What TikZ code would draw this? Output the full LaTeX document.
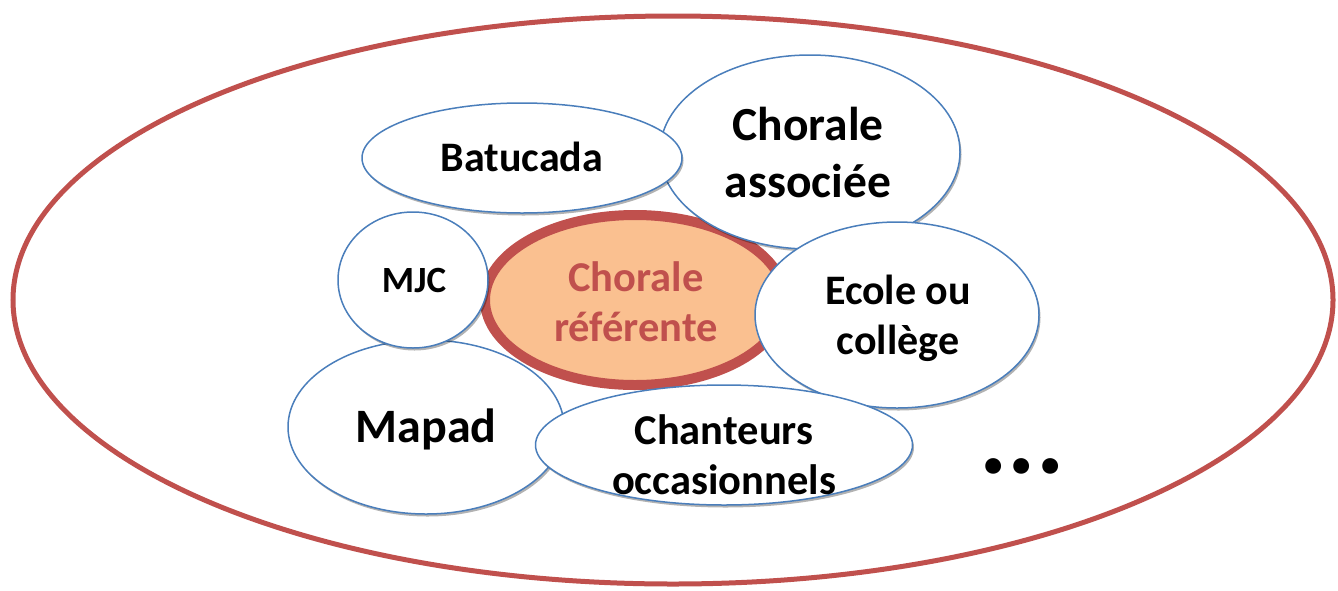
\documentclass[tikz,border=0pt]{standalone}
\usepackage{fontspec}
\setmainfont{Carlito}
\usetikzlibrary{shapes.geometric,shadows}
\definecolor{bl}{HTML}{4A7EBB}
\definecolor{rd}{HTML}{C0504D}
\definecolor{org}{HTML}{FAC090}
\newcommand{\fs}[1]{\bfseries\fontsize{#1}{#1}\selectfont}
\begin{document}
\begin{tikzpicture}[x=1pt,y=-1pt,
  bub/.style={ellipse, draw=bl, line width=1.5pt, fill=white, inner sep=0pt,
    drop shadow={shadow xshift=1.5pt, shadow yshift=-2.5pt, opacity=0.3, fill=black}},
  lbl/.style={anchor=base, inner sep=0pt, text=black}]
\useasboundingbox (0,0) rectangle (1338,590);
% outer ellipse
\node[ellipse, draw=rd, line width=5pt, inner sep=0pt, minimum width=1320pt, minimum height=568pt] (outer) at (673,300) {};
% bubbles
\node[ellipse, draw=rd, line width=10pt, fill=org, inner sep=0pt, minimum width=300pt, minimum height=170pt,
  drop shadow={shadow xshift=1.5pt, shadow yshift=-2.5pt, opacity=0.3, fill=black}] (ref) at (635,300) {};
\node[bub, minimum width=300pt, minimum height=194pt] (assoc) at (810,152) {};
\node[bub, minimum width=320pt, minimum height=110pt] (batu) at (522,158) {};
\node[bub, minimum width=276pt, minimum height=174pt] (mapad) at (426,427) {};
\node[bub, minimum width=150pt, minimum height=136pt] (mjc) at (413,280) {};
\node[bub, minimum width=284pt, minimum height=186pt] (ecole) at (897,315) {};
\node[bub, minimum width=377pt, minimum height=120pt] (chant) at (724,445) {};
% labels
\node[lbl, font=\fs{42}] (tbatu) at (522,171) {Batucada};
\node[lbl, font=\fs{47.5}] (tassoc1) at (808,140) {Chorale};
\node[lbl, font=\fs{47.5}] (tassoc2) at (808,197) {associée};
\node[lbl, font=\fs{37}] (tmjc) at (414,292) {MJC};
\node[lbl, font=\fs{48}] (tmapad) at (426,442) {Mapad};
\node[lbl, font=\fs{42.5}, text=rd] (tref1) at (636,291) {Chorale};
\node[lbl, font=\fs{42.5}, text=rd] (tref2) at (636,341) {référente};
\node[lbl, font=\fs{42}] (tecole1) at (898,304) {Ecole ou};
\node[lbl, font=\fs{42}] (tecole2) at (898,354) {collège};
\node[lbl, font=\fs{42.5}] (tchant1) at (724,444) {Chanteurs};
\node[lbl, font=\fs{42.5}] (tchant2) at (724,494) {occasionnels};
\node[lbl, font=\fs{106}] (dots) at (1022,473) {...};
\end{tikzpicture}
\end{document}
